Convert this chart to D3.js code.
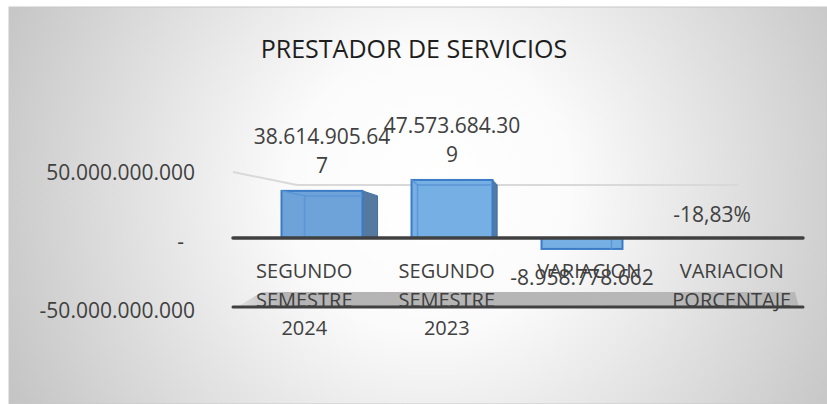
<!DOCTYPE html>
<meta charset="utf-8">
<style>
body { margin: 0; background: #fff; }
text { font-family: "Open Sans", sans-serif; }
.axis text { font-size: 21px; fill: #404040; }
.cat { font-size: 20px; fill: #404040; }
.lbl { font-size: 21px; fill: #404040; }
</style>
<svg width="827" height="404"></svg>
<script src="https://d3js.org/d3.v7.min.js"></script>
<script>

var categories = ["SEGUNDO SEMESTRE 2024", "SEGUNDO SEMESTRE 2023", "VARIACION", "VARIACION PORCENTAJE"];
var values = [38614905647, 47573684309, -8958778662, -0.1883];
var isPercent = [false, false, false, true];
var tickValues = [-50000000000, 0, 50000000000];
var title = "PRESTADOR DE SERVICIOS";

var svg = d3.select("svg"),
    width = +svg.attr("width"),
    height = +svg.attr("height");

var es = d3.formatLocale({decimal: ",", thousands: ".", grouping: [3], currency: ["$", ""], minus: "-"});
var fmtNum = es.format(",d"),
    fmtPct = es.format(".2%");

var defs = svg.append("defs");

var bg = defs.append("radialGradient")
    .attr("id", "bg")
    .attr("gradientUnits", "userSpaceOnUse")
    .attr("cx", 430).attr("cy", 190).attr("r", 470);
bg.append("stop").attr("offset", 0).attr("stop-color", "#ffffff");
bg.append("stop").attr("offset", 0.3).attr("stop-color", "#fbfbfb");
bg.append("stop").attr("offset", 1).attr("stop-color", "#c4c4c4");

var floor = defs.append("linearGradient")
    .attr("id", "floor")
    .attr("x1", 0).attr("y1", 0).attr("x2", 1).attr("y2", 0);
floor.append("stop").attr("offset", 0).attr("stop-color", "#b4b4b4").attr("stop-opacity", 0.2);
floor.append("stop").attr("offset", 0.08).attr("stop-color", "#b4b4b4").attr("stop-opacity", 1);
floor.append("stop").attr("offset", 1).attr("stop-color", "#b8b8b8").attr("stop-opacity", 1);

// panel
svg.append("rect")
    .attr("x", 9).attr("y", 7)
    .attr("width", width - 9).attr("height", height - 7)
    .attr("fill", "url(#bg)")
    .attr("stroke", "#c8c8c8");

svg.append("text")
    .attr("x", 414).attr("y", 58)
    .attr("text-anchor", "middle")
    .style("font-size", "25px")
    .attr("fill", "#1e1e1e")
    .text(title);

// front plane (labels, floor lines) and back plane (bars)
var xFront = d3.scaleBand().domain(categories).range([233, 803]);
var xBar = d3.scaleBand().domain(categories).range([257, 777])
    .paddingInner(0.377).paddingOuter(0.1885);

var yFront = d3.scaleLinear().domain([-50e9, 50e9]).range([307, 169]);
var yBar = d3.scaleLinear().domain([-50e9, 50e9]).range([299, 177]);

// back gridline at 50.000.000.000
var gy = yBar(50e9) + 8;
svg.append("path")
    .attr("d", d3.line()([[233, yFront(50e9) + 3], [xBar.range()[0] + 40, gy], [xBar.range()[1] - 38, gy]]))
    .attr("fill", "none")
    .attr("stroke", "#d9d9d9")
    .attr("stroke-width", 2);

// floor band above the -50.000.000.000 line
var fy = yFront(-50e9);
svg.append("path")
    .attr("d", d3.line()([[237, fy], [262, fy - 15], [795, fy - 15], [799, fy]]) + "Z")
    .attr("fill", "url(#floor)");

svg.append("line")
    .attr("x1", 233).attr("x2", 803)
    .attr("y1", fy).attr("y2", fy)
    .attr("stroke", "#404040").attr("stroke-width", 3)
    .attr("stroke-linecap", "round");

// y axis
var yAxis = svg.append("g")
    .attr("class", "axis")
    .attr("transform", "translate(198,4)")
    .call(d3.axisLeft(yFront)
        .tickValues(tickValues)
        .tickSize(0)
        .tickPadding(3)
        .tickFormat(function(d) { return d === 0 ? "-" : fmtNum(d); }));
yAxis.select(".domain").remove();
yAxis.selectAll("text")
    .attr("dx", function(d) { return d === 0 ? -11 : 0; });

// bars
var vp = 498;
var bars = svg.append("g").selectAll("g")
    .data(values)
    .enter().append("g");

bars.each(function(v, i) {
  var g = d3.select(this),
      x0 = xBar(categories[i]),
      w = xBar.bandwidth(),
      x1 = x0 + w,
      cx = x0 + w / 2,
      top = yBar(Math.max(v, 0)),
      bot = yBar(Math.min(v, 0));
  if (bot - top < 1) return;
  var dx = (vp - cx) * 0.131,
      dy = v > 0 ? 5 : 0,
      sw = Math.max(0, (510 - cx) * 0.08);

  if (sw > 0) {
    g.append("path")
        .attr("d", d3.line()([[x1, top], [x1 + sw, top + 5], [x1 + sw, bot], [x1, bot]]) + "Z")
        .attr("fill", "#56799f")
        .attr("stroke", "#3b6ea8")
        .attr("stroke-width", 1);
  }
  g.append("rect")
      .attr("x", x0).attr("y", top)
      .attr("width", w).attr("height", bot - top)
      .attr("fill", v > 0 && i === 0 ? "#6ea3da" : "#76afe4")
      .attr("stroke", "#3c7cc6")
      .attr("stroke-width", 2);
  if (dx > 0) {
    g.append("path")
        .attr("d", d3.line()([[x0, top], [x0 + dx, top + dy], [x0 + dx, bot]]))
        .attr("fill", "none").attr("stroke", "#5b96d6").attr("stroke-width", 1.5);
    g.append("path")
        .attr("d", d3.line()([[x0 + dx, top + dy], [x1, top + dy]]))
        .attr("fill", "none").attr("stroke", "#5b96d6").attr("stroke-width", 1.5);
  } else {
    g.append("line")
        .attr("x1", x1 + dx).attr("x2", x1 + dx)
        .attr("y1", top).attr("y2", bot)
        .attr("stroke", "#5b96d6").attr("stroke-width", 1.5);
  }
});

// zero line
svg.append("line")
    .attr("x1", 233).attr("x2", 803)
    .attr("y1", yFront(0)).attr("y2", yFront(0))
    .attr("stroke", "#404040").attr("stroke-width", 3.5)
    .attr("stroke-linecap", "round");

// category labels
svg.append("g").selectAll("text")
    .data(categories)
    .enter().append("text")
    .attr("class", "cat")
    .attr("text-anchor", "middle")
    .attr("x", function(d) { return xFront(d) + xFront.bandwidth() / 2; })
    .attr("y", 278)
    .each(function(d) {
      var t = d3.select(this), x = t.attr("x");
      d.split(" ").forEach(function(word, k) {
        t.append("tspan").attr("x", x).attr("dy", k ? 28.5 : 0).text(word);
      });
    });

// data labels, wrapped at a max width like the original
var maxW = 146;
svg.append("g").selectAll("text")
    .data(values)
    .enter().append("text")
    .attr("class", "lbl")
    .attr("text-anchor", "middle")
    .each(function(v, i) {
      var t = d3.select(this),
          s = isPercent[i] ? fmtPct(v) : fmtNum(v),
          cx = xBar(categories[i]) + xBar.bandwidth() / 2,
          lines = [], cur = "";
      for (var c of s) {
        t.text(cur + c);
        if (cur && this.getComputedTextLength() > maxW) { lines.push(cur); cur = c; }
        else cur += c;
      }
      lines.push(cur);
      t.text(null);
      var below = yBar(Math.min(v, 0)) - yBar(0) >= 1;
      var y0 = below ? yBar(v) + 36 : yBar(Math.max(v, 0)) - (v > 0 ? 18 : 16) - 29 * (lines.length - 1);
      lines.forEach(function(l, k) {
        t.append("tspan").attr("x", cx).attr("y", y0 + 29 * k).text(l);
      });
    });

</script>
